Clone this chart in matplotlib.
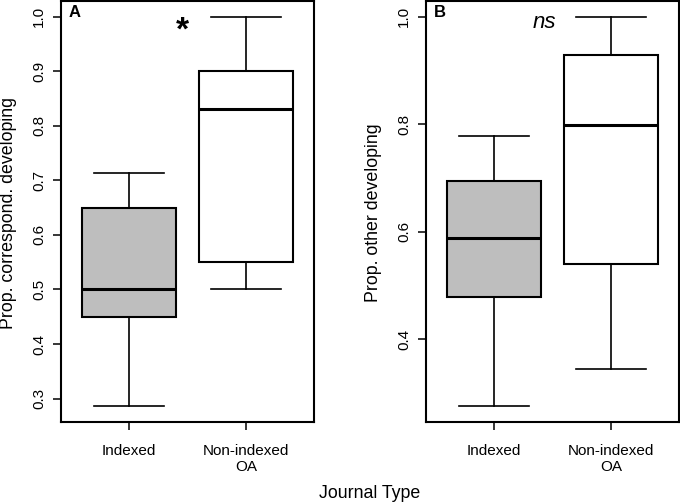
import matplotlib
matplotlib.use("Agg")
import matplotlib.pyplot as plt

plt.rcParams['font.family'] = ['Liberation Sans', 'DejaVu Sans']

# box stats: whisker low, Q1, median, Q3, whisker high
groups = ['Indexed', 'Non-indexed\nOA']
fills = ['#bebebe', 'white']

corr_indexed = [0.2857, 0.45, 0.50, 0.65, 0.7143]
corr_nonindexed = [0.50, 0.55, 0.83, 0.90, 1.0]

other_indexed = [0.275, 0.479, 0.588, 0.694, 0.777]
other_nonindexed = [0.344, 0.539, 0.798, 0.928, 1.0]

panels = [
    {'tag': 'A', 'ylab': 'Prop. correspond. developing',
     'data': [corr_indexed, corr_nonindexed],
     'yticks': [0.3, 0.4, 0.5, 0.6, 0.7, 0.8, 0.9, 1.0], 'fmt': '%.1f',
     'sig': '*'},
    {'tag': 'B', 'ylab': 'Prop. other developing',
     'data': [other_indexed, other_nonindexed],
     'yticks': [0.4, 0.6, 0.8, 1.0], 'fmt': '%.1f',
     'sig': 'ns'},
]

fig = plt.figure(figsize=(6.8, 5.03), dpi=100)
W, H = 680.0, 503.0

ax_boxes = [(61, 1, 314, 422), (426, 1, 679, 422)]
ylab_x = [8.5, 373]

for p, (x0, y0, x1, y1), lx in zip(panels, ax_boxes, ylab_x):
    ax = fig.add_axes([x0 / W, 1 - y1 / H, (x1 - x0) / W, (y1 - y0) / H])
    stats = []
    for vals in p['data']:
        lo, q1, med, q3, hi = vals
        stats.append({'whislo': lo, 'q1': q1, 'med': med, 'q3': q3,
                      'whishi': hi, 'fliers': []})
    bp = ax.bxp(stats, positions=[1, 2], widths=0.8, capwidths=0.6,
                patch_artist=True, showfliers=False,
                boxprops=dict(linewidth=1.5, edgecolor='black'),
                medianprops=dict(linewidth=2.2, color='black'),
                whiskerprops=dict(linewidth=1.2, color='black'),
                capprops=dict(linewidth=1.2, color='black'))
    for patch, c in zip(bp['boxes'], fills):
        patch.set_facecolor(c)

    # R style range: 4% padding
    lo = min(v[0] for v in p['data'])
    hi = max(v[4] for v in p['data'])
    pad = 0.04 * (hi - lo)
    ax.set_ylim(lo - pad, hi + pad)
    ax.set_xlim(0.42, 2.58)

    ax.set_yticks(p['yticks'])
    ax.set_yticklabels([p['fmt'] % t for t in p['yticks']], rotation=90,
                       va='center', fontsize=11)
    ax.set_xticks([1, 2])
    ax.set_xticklabels(groups, fontsize=11, linespacing=1.15)
    ax.tick_params(axis='y', direction='out', length=5.8, width=1.1, pad=5)
    ax.tick_params(axis='x', direction='out', length=5.8, width=1.1, pad=10)
    for s in ax.spines.values():
        s.set_linewidth(1.5)

    ax.text(0.03, 0.99, p['tag'], transform=ax.transAxes, ha='left',
            va='top', fontsize=12, fontweight='bold')
    if p['sig'] == '*':
        ax.text(1.458, 0.958, '*', ha='center', va='baseline',
                fontsize=24, fontweight='bold')
    else:
        ax.text(1.434, 0.9795, 'ns', ha='center', va='baseline',
                fontsize=16, style='italic')

    fig.text(lx / W, 1 - 213 / H, p['ylab'], rotation=90, ha='center',
             va='center', fontsize=12.8)

fig.text(370 / W, 1 - 493 / H, 'Journal Type', ha='center', va='center',
         fontsize=12.8)

fig.savefig('out.png', dpi=100)
